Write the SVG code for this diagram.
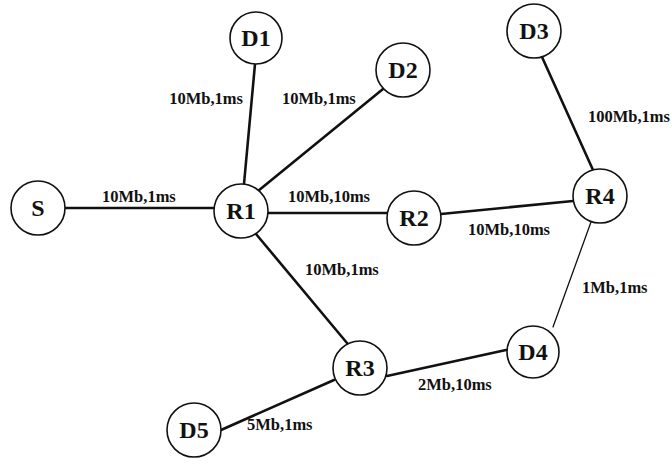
<svg xmlns="http://www.w3.org/2000/svg" width="672" height="468" viewBox="0 0 672 468">
  <style>
    .link { stroke: #111; stroke-width: 2.6; stroke-linecap: round; fill: none; }
    .link.thin { stroke-width: 1.3; }
    .node circle { fill: #fff; stroke: #111; stroke-width: 1.6; }
    .node text { font-family: "Liberation Serif", "Times New Roman", serif; font-weight: bold; font-size: 24px; fill: #111; text-anchor: middle; }
    .lbl { font-family: "Liberation Serif", "Times New Roman", serif; font-weight: bold; font-size: 16.5px; fill: #111; }
  </style>
  <rect width="672" height="468" fill="#fff"/>

  <!-- links with their bandwidth / delay labels -->
  <g id="links">
    <line class="link" x1="65" y1="208" x2="214" y2="208"/>
    <line class="link" x1="244" y1="184" x2="255" y2="64"/>
    <line class="link" x1="258" y1="191" x2="383" y2="89"/>
    <line class="link" x1="268" y1="213" x2="387" y2="213"/>
    <line class="link" x1="441" y1="214" x2="573" y2="201"/>
    <line class="link" x1="542" y1="57" x2="593" y2="170"/>
    <line class="link thin" x1="591" y1="222" x2="553" y2="327"/>
    <line class="link" x1="256" y1="234" x2="347" y2="343"/>
    <line class="link" x1="387" y1="376" x2="506" y2="350"/>
    <line class="link" x1="334" y1="380" x2="221" y2="430"/>

    <text class="lbl" x="102" y="202">10Mb,1ms</text>
    <text class="lbl" x="243" y="104" text-anchor="end">10Mb,1ms</text>
    <text class="lbl" x="282" y="104">10Mb,1ms</text>
    <text class="lbl" x="288" y="202">10Mb,10ms</text>
    <text class="lbl" x="468" y="235">10Mb,10ms</text>
    <text class="lbl" x="670" y="122" text-anchor="end">100Mb,1ms</text>
    <text class="lbl" x="305" y="275">10Mb,1ms</text>
    <text class="lbl" x="582" y="293">1Mb,1ms</text>
    <text class="lbl" x="418" y="390">2Mb,10ms</text>
    <text class="lbl" x="247" y="430">5Mb,1ms</text>
  </g>

  <!-- nodes -->
  <g id="S" class="node"><circle cx="38" cy="208" r="27"/><text x="38" y="216">S</text></g>
  <g id="R1" class="node"><circle cx="241" cy="211" r="27"/><text x="241" y="219">R1</text></g>
  <g id="D1" class="node"><circle cx="256" cy="38" r="26"/><text x="256" y="46">D1</text></g>
  <g id="D2" class="node"><circle cx="403" cy="70" r="27"/><text x="403" y="78">D2</text></g>
  <g id="D3" class="node"><circle cx="534" cy="31" r="27"/><text x="534" y="39">D3</text></g>
  <g id="R2" class="node"><circle cx="414" cy="218" r="27"/><text x="414" y="226">R2</text></g>
  <g id="R4" class="node"><circle cx="600" cy="196" r="27"/><text x="600" y="204">R4</text></g>
  <g id="R3" class="node"><circle cx="360" cy="368" r="27"/><text x="360" y="376">R3</text></g>
  <g id="D4" class="node"><circle cx="533" cy="352" r="26"/><text x="533" y="360">D4</text></g>
  <g id="D5" class="node"><circle cx="194" cy="430" r="27"/><text x="194" y="438">D5</text></g>
</svg>
